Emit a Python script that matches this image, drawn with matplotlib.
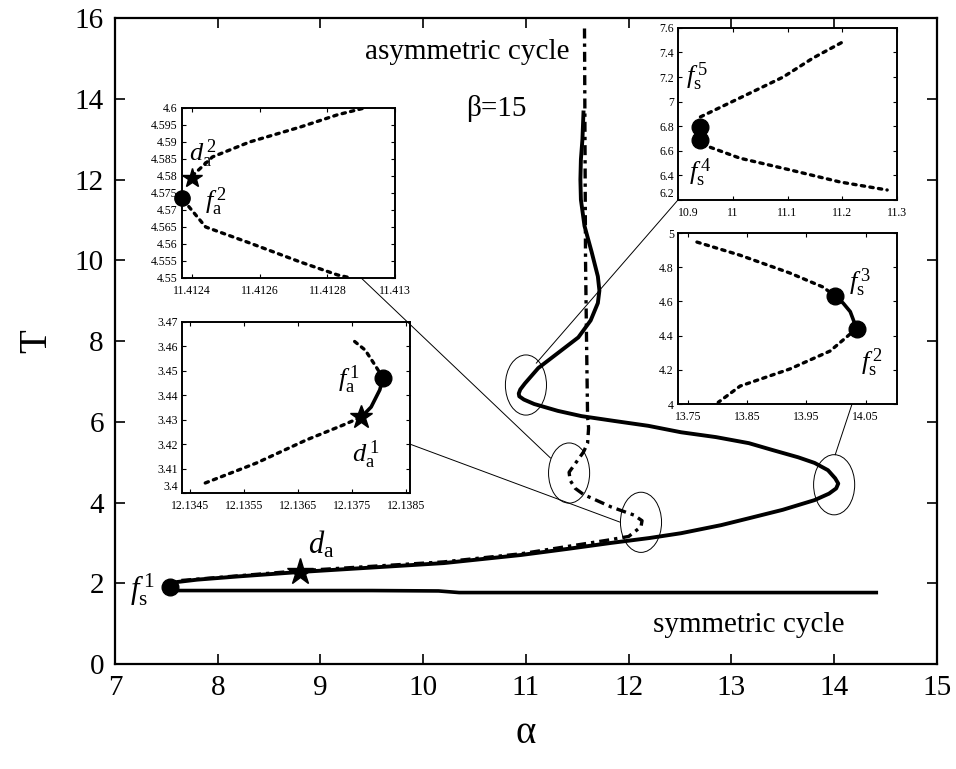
import matplotlib
matplotlib.use("Agg")
import matplotlib.pyplot as plt
from matplotlib.patches import Ellipse, ConnectionPatch

plt.rcParams['font.family'] = ['Liberation Serif', 'DejaVu Serif']
plt.rcParams['mathtext.fontset'] = 'custom'
plt.rcParams['mathtext.rm'] = 'Liberation Serif'
plt.rcParams['mathtext.it'] = 'Liberation Serif:italic'

# main branch (asymmetric solution curve)
asym_alpha = [7.54, 7.60, 7.80, 8.20, 8.80, 9.50, 10.20, 10.95, 11.40, 11.83, 12.20, 12.51,
              12.90, 13.17, 13.50, 13.81, 13.95, 14.02, 14.04, 14.01, 13.94, 13.81, 13.65,
              13.40, 13.17, 12.85, 12.51, 12.19, 11.86, 11.54, 11.31, 11.08, 10.98, 10.935,
              10.93, 10.945, 10.99, 11.12, 11.31, 11.51, 11.63, 11.70, 11.715, 11.70,
              11.64, 11.57, 11.535, 11.53, 11.535, 11.55, 11.56]
asym_T = [1.88, 2.03, 2.09, 2.17, 2.28, 2.39, 2.50, 2.70, 2.85, 3.00, 3.12, 3.24,
          3.44, 3.61, 3.82, 4.06, 4.22, 4.35, 4.47, 4.60, 4.80, 4.98, 5.12,
          5.30, 5.47, 5.62, 5.74, 5.90, 6.02, 6.14, 6.27, 6.44, 6.55, 6.63,
          6.70, 6.80, 6.95, 7.33, 7.70, 8.09, 8.51, 8.94, 9.25, 9.60,
          10.20, 10.85, 11.50, 12.00, 12.50, 13.00, 13.66]

# dash-dot branch
dd_alpha = [11.57, 11.58, 11.59, 11.60, 11.61, 11.60, 11.56, 11.49, 11.42, 11.43, 11.48,
            11.56, 11.83, 12.05, 12.13, 12.12, 12.00, 11.80, 10.95, 10.20, 8.80, 7.60, 7.54]
dd_T = [15.74, 10.0, 8.0, 6.11, 5.85, 5.47, 5.25, 5.00, 4.75, 4.55, 4.35,
        4.20, 3.89, 3.69, 3.55, 3.40, 3.16, 3.07, 2.73, 2.53, 2.31, 2.06, 1.90]

# symmetric cycle
sym_alpha = [7.54, 8.50, 9.50, 10.15, 10.35, 11.50, 12.50, 13.50, 14.41]
sym_T = [1.82, 1.82, 1.82, 1.81, 1.77, 1.77, 1.77, 1.77, 1.77]

# special points on main plot
fs1 = (7.54, 1.90)
da = (8.80, 2.29)

# zoom ellipses (centre alpha, centre T)
ell_alpha = [11.00, 11.42, 12.12, 14.00]
ell_T = [6.91, 4.73, 3.51, 4.44]

# inset A: near alpha 11.4124
A_up_a = [11.41240, 11.41246, 11.41257, 11.41272, 11.41283, 11.41291]
A_up_T = [4.5800, 4.5856, 4.5900, 4.5944, 4.5980, 4.6000]
A_lo_a = [11.41239, 11.41244, 11.41257, 11.41272, 11.41283, 11.41287]
A_lo_T = [4.5710, 4.5650, 4.5603, 4.5547, 4.5509, 4.5500]
A_star = (11.41240, 4.5794)
A_dot = (11.41237, 4.5735)

# inset B: near alpha 12.137
B_lo_a = [12.13478, 12.13573, 12.13665, 12.13733, 12.13767]
B_lo_T = [3.4041, 3.4123, 3.4217, 3.4278, 3.4311]
B_mid_a = [12.13767, 12.13785, 12.13801, 12.13807]
B_mid_T = [3.4311, 3.4352, 3.4422, 3.4471]
B_up_a = [12.13807, 12.13792, 12.13774, 12.13749]
B_up_T = [3.4471, 3.4524, 3.4585, 3.4630]
B_star = (12.13767, 3.4311)
B_dot = (12.13807, 3.4471)

# inset C: turning point near alpha 10.94
C_up_a = [10.941, 11.013, 11.092, 11.147, 11.201]
C_up_T = [6.876, 7.030, 7.200, 7.356, 7.486]
C_lo_a = [10.945, 10.958, 11.013, 11.105, 11.196, 11.282]
C_lo_T = [6.660, 6.630, 6.540, 6.444, 6.346, 6.281]
C_dots_a = [10.940, 10.941]
C_dots_T = [6.794, 6.688]

# inset D: turning point near alpha 14.03
D_up_a = [13.765, 13.838, 13.922, 13.978, 13.998]
D_up_T = [4.947, 4.870, 4.766, 4.684, 4.632]
D_mid_a = [13.998, 14.012, 14.024, 14.035]
D_mid_T = [4.632, 4.590, 4.540, 4.439]
D_lo_a = [14.035, 14.024, 13.990, 13.922, 13.838, 13.801]
D_lo_T = [4.439, 4.410, 4.310, 4.205, 4.105, 4.010]
D_dots_a = [13.998, 14.035]
D_dots_T = [4.632, 4.439]

fig = plt.figure(figsize=(9.56, 7.69), dpi=100)
ax = fig.add_axes([0.1203, 0.1365, 0.8597, 0.8401])

ax.plot(sym_alpha, sym_T, color='black', lw=2.6)
ax.plot(dd_alpha, dd_T, color='black', lw=2.4, linestyle=(0, (3, 1.5, 1, 1.5)))
ax.plot(asym_alpha, asym_T, color='black', lw=2.8)
ax.plot(*fs1, 'o', color='black', ms=12)
ax.plot(*da, '*', color='black', ms=20)

for a, t in zip(ell_alpha, ell_T):
    ax.add_patch(Ellipse((a, t), 0.40, 1.49, fill=False, lw=0.7, color='black'))

ax.set_xlim(7, 15)
ax.set_ylim(0, 16)
ax.set_xticks(range(7, 16))
ax.set_yticks(range(0, 17, 2))
ax.tick_params(direction='in', top=True, right=True, length=7, width=1.2,
               labelsize=21, pad=8)
for s in ax.spines.values():
    s.set_linewidth(1.6)
ax.set_xlabel('α', fontsize=28, labelpad=10)
ax.set_ylabel('T', fontsize=28, labelpad=14)

ax.text(11.42, 15.15, 'asymmetric cycle', fontsize=21, ha='right', va='center')
ax.text(10.71, 13.76, 'β=15', fontsize=21, ha='center', va='center')
ax.text(13.17, 0.97, 'symmetric cycle', fontsize=21, ha='center', va='center')
ax.text(9.01, 2.95, r'$d_{\rm a}$', fontsize=22, ha='center', va='center')
ax.text(7.27, 1.85, r'$f_{\rm s}^{\,1}$', fontsize=22, ha='center', va='center')

dot_style = dict(color='black', lw=2.4, linestyle=(0, (1, 1.6)), dash_capstyle='round')
small = 8.5


def style_inset(iax):
    iax.tick_params(direction='in', top=True, right=True, length=3, width=0.8,
                    labelsize=small, pad=3)
    iax.tick_params(axis='x', pad=5)
    for s in iax.spines.values():
        s.set_linewidth(1.4)


# inset A
axA = fig.add_axes([0.1904, 0.6385, 0.2228, 0.2211])
axA.plot(A_up_a, A_up_T, **dot_style)
axA.plot(A_lo_a, A_lo_T, **dot_style)
axA.plot(*A_star, '*', color='black', ms=15, clip_on=False)
axA.plot(*A_dot, 'o', color='black', ms=11, clip_on=False)
axA.set_xlim(11.41237, 11.4130)
axA.set_ylim(4.55, 4.6)
axA.set_xticks([11.4124, 11.4126, 11.4128, 11.413])
axA.set_xticklabels(['11.4124', '11.4126', '11.4128', '11.413'])
A_yt = [4.55, 4.555, 4.56, 4.565, 4.57, 4.575, 4.58, 4.585, 4.59, 4.595, 4.6]
axA.set_yticks(A_yt)
axA.set_yticklabels(['%g' % v for v in A_yt])
style_inset(axA)
axA.text(11.41243, 4.5865, r'$d_{\rm a}^{\,2}$', fontsize=19, ha='center', va='center')
axA.text(11.41247, 4.5725, r'$f_{\rm a}^{\,2}$', fontsize=19, ha='center', va='center')

# inset B
axB = fig.add_axes([0.1904, 0.3589, 0.2385, 0.2224])
axB.plot(B_lo_a, B_lo_T, **dot_style)
axB.plot(B_up_a, B_up_T, **dot_style)
axB.plot(B_mid_a, B_mid_T, color='black', lw=2.6)
axB.plot(*B_star, '*', color='black', ms=17)
axB.plot(*B_dot, 'o', color='black', ms=12)
axB.set_xlim(12.13435, 12.13857)
axB.set_ylim(3.4, 3.47)
B_xt = [12.1345, 12.1355, 12.1365, 12.1375, 12.1385]
axB.set_xticks(B_xt)
axB.set_xticklabels(['%.4f' % v for v in B_xt])
B_yt = [3.4, 3.41, 3.42, 3.43, 3.44, 3.45, 3.46, 3.47]
axB.set_yticks(B_yt)
axB.set_yticklabels(['%g' % v for v in B_yt])
style_inset(axB)
axB.get_yticklabels()[0].set_va('bottom')
axB.text(12.13744, 3.4465, r'$f_{\rm a}^{\,1}$', fontsize=19, ha='center', va='center')
axB.text(12.13774, 3.4155, r'$d_{\rm a}^{\,1}$', fontsize=19, ha='center', va='center')

# inset C
axC = fig.add_axes([0.7092, 0.7400, 0.2291, 0.2237])
axC.plot(C_up_a, C_up_T, **dot_style)
axC.plot(C_lo_a, C_lo_T, **dot_style)
axC.plot(C_dots_a, C_dots_T, 'o', color='black', ms=12)
axC.set_xlim(10.9, 11.3)
axC.set_ylim(6.2, 7.6)
C_xt = [10.9, 11.0, 11.1, 11.2, 11.3]
axC.set_xticks(C_xt)
axC.set_xticklabels(['%g' % v for v in C_xt])
C_yt = [6.2, 6.4, 6.6, 6.8, 7.0, 7.2, 7.4, 7.6]
axC.set_yticks(C_yt)
axC.set_yticklabels(['%g' % v for v in C_yt])
style_inset(axC)
axC.get_xticklabels()[0].set_ha('left')
axC.get_yticklabels()[0].set_va('bottom')
axC.text(10.935, 7.20, r'$f_{\rm s}^{\,5}$', fontsize=19, ha='center', va='center')
axC.text(10.940, 6.42, r'$f_{\rm s}^{\,4}$', fontsize=19, ha='center', va='center')

# inset D
axD = fig.add_axes([0.7092, 0.4746, 0.2291, 0.2224])
axD.plot(D_up_a, D_up_T, **dot_style)
axD.plot(D_lo_a, D_lo_T, **dot_style)
axD.plot(D_mid_a, D_mid_T, color='black', lw=2.6)
axD.plot(D_dots_a, D_dots_T, 'o', color='black', ms=12)
axD.set_xlim(13.733, 14.103)
axD.set_ylim(4.0, 5.0)
D_xt = [13.75, 13.85, 13.95, 14.05]
axD.set_xticks(D_xt)
axD.set_xticklabels(['%g' % v for v in D_xt])
D_yt = [4.0, 4.2, 4.4, 4.6, 4.8, 5.0]
axD.set_yticks(D_yt)
axD.set_yticklabels(['%g' % v for v in D_yt])
style_inset(axD)
axD.text(14.04, 4.71, r'$f_{\rm s}^{\,3}$', fontsize=19, ha='center', va='center')
axD.text(14.06, 4.24, r'$f_{\rm s}^{\,2}$', fontsize=19, ha='center', va='center')

# connector lines from insets to ellipses
links = [(axC, (10.9, 6.2), (11.10, 7.45)),
         (axA, (11.41290, 4.55), (11.24, 5.10)),
         (axB, (12.13857, 3.42), (11.92, 3.51)),
         (axD, (14.027, 4.0), (14.01, 5.18))]
for iax, pa, pb in links:
    con = ConnectionPatch(xyA=pa, coordsA=iax.transData, xyB=pb, coordsB=ax.transData,
                          color='black', lw=0.7)
    fig.add_artist(con)

fig.savefig('out.png', dpi=100)
